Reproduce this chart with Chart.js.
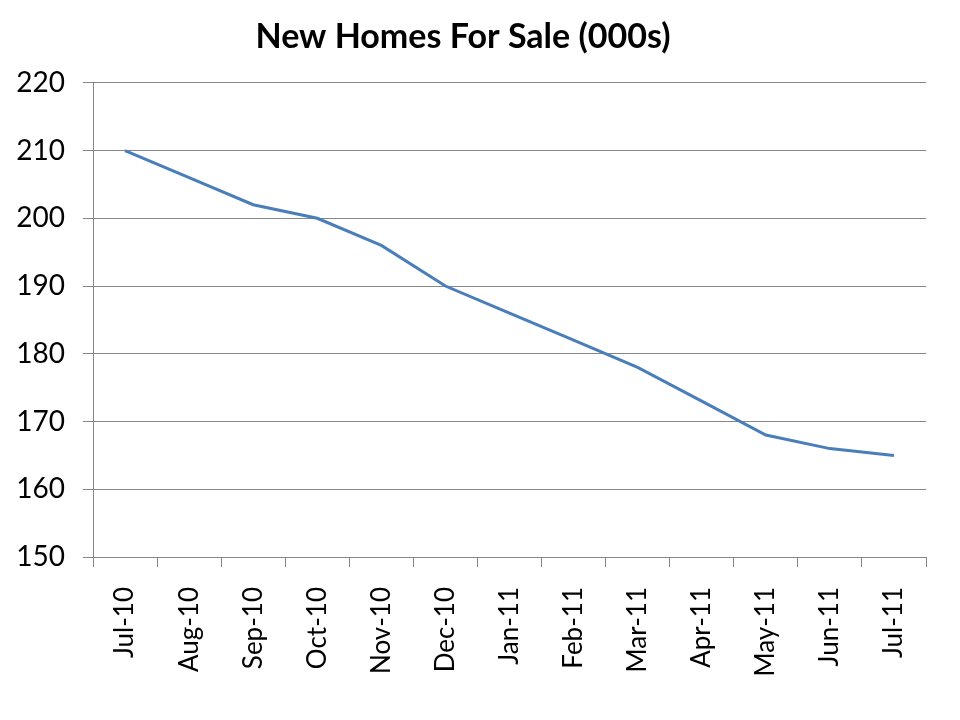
<!DOCTYPE html>
<html>
<head>
<meta charset="utf-8">
<script src="https://cdn.jsdelivr.net/npm/chart.js@4"></script>
<style>
  html, body { margin: 0; padding: 0; background: #fff; }
  #wrap { width: 960px; height: 720px; }
</style>
</head>
<body>
<div id="wrap"><canvas id="myChart" width="960" height="720"></canvas></div>
<script>
const months = ['Jul-10', 'Aug-10', 'Sep-10', 'Oct-10', 'Nov-10', 'Dec-10', 'Jan-11',
                'Feb-11', 'Mar-11', 'Apr-11', 'May-11', 'Jun-11', 'Jul-11'];
const homesForSale = [210, 206, 202, 200, 196, 190, 186, 182, 178, 173, 168, 166, 165];
const yTicks = [150, 160, 170, 180, 190, 200, 210, 220];

const ctx = document.getElementById('myChart');
const gridColor = '#868686';
const fontName = 'Lato, "Open Sans", sans-serif';

new Chart(ctx, {
    type: 'line',
    data: {
        labels: months,
        datasets: [{
            label: 'New Homes For Sale',
            data: homesForSale,
            borderColor: '#4A7EBB',
            borderWidth: 3,
            pointRadius: 0,
            tension: 0,
            fill: false
        }]
    },
    options: {
        responsive: false,
        animation: false,
        layout: { padding: { left: 0, right: 34, top: 0, bottom: 0 } },
        plugins: {
            legend: { display: false },
            tooltip: { enabled: false },
            title: {
                display: true,
                text: 'New Homes For Sale (000s)',
                color: '#000',
                font: { family: fontName, size: 34, weight: 'bold' },
                padding: { top: 17, bottom: 25 }
            }
        },
        scales: {
            x: {
                offset: true,
                grid: {
                    offset: true,
                    drawOnChartArea: false,
                    drawTicks: true,
                    tickLength: 10,
                    color: gridColor
                },
                border: { display: true, color: gridColor },
                ticks: {
                    color: '#000',
                    font: { family: fontName, size: 26 },
                    minRotation: 90,
                    maxRotation: 90,
                    padding: 20,
                    autoSkip: false
                },
                afterFit(scale) { scale.height = 163; }
            },
            y: {
                min: yTicks[0],
                max: yTicks[yTicks.length - 1],
                afterBuildTicks(scale) {
                    scale.ticks = yTicks.map(v => ({ value: v }));
                },
                grid: {
                    color: gridColor,
                    tickLength: 10
                },
                border: { display: true, color: gridColor },
                ticks: {
                    color: '#000',
                    font: { family: fontName, size: 28 },
                    padding: 18
                },
                afterFit(scale) { scale.width = 93; }
            }
        }
    }
});
</script>
</body>
</html>
